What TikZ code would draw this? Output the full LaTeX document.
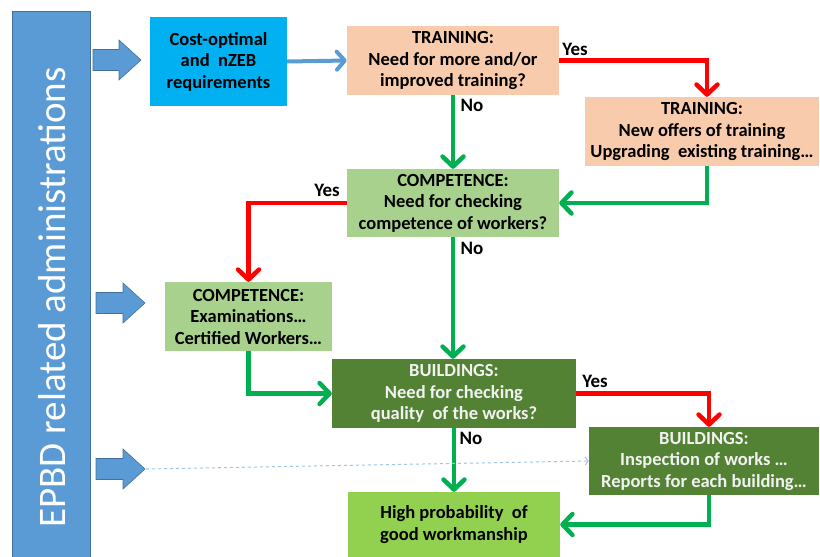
\documentclass[tikz,border=0pt]{standalone}
\usepackage{fontspec}
\setmainfont{Carlito}
\usetikzlibrary{arrows.meta,calc}
\definecolor{cBlue}{HTML}{5B9BD5}
\definecolor{cBlueDark}{HTML}{41719C}
\definecolor{cDash}{HTML}{9DC3E6}
\definecolor{cCyan}{HTML}{00B0F0}
\definecolor{cPeach}{HTML}{F8CBAD}
\definecolor{cLightGreen}{HTML}{A9D18E}
\definecolor{cDarkGreen}{HTML}{548235}
\definecolor{cLime}{HTML}{92D050}
\definecolor{cGreen}{HTML}{00B050}
\definecolor{cRed}{HTML}{FF0000}
\definecolor{cWhiteText}{HTML}{F2F2F2}
\begin{document}
\begin{tikzpicture}[x=1pt,y=-1pt,
  box/.style={rectangle, inner sep=0pt, align=center,
    font=\fontsize{18.5}{21.5}\selectfont\bfseries, text=black},
  lbl/.style={font=\fontsize{19}{21.5}\selectfont\bfseries, inner sep=0pt, anchor=base, text=black},
  gline/.style={draw=cGreen, line width=4.5pt, -{Straight Barb[length=10pt,width=21pt,round]}},
  rline/.style={draw=cRed, line width=4.5pt, -{Straight Barb[length=10pt,width=21pt,round]}},
  bline/.style={draw=cBlue, line width=4pt, -{Straight Barb[length=8pt,width=18pt,round]}},
  dline/.style={draw=cDash, line width=1pt, dashed, -{Straight Barb[length=3pt,width=8pt]}},
  blockarrow/.style={fill=cBlue, draw=cBlueDark, line width=0.6pt}
]
\useasboundingbox (0,0) rectangle (820,557);

% left bar
\path[fill=cBlue, draw=cBlueDark, line width=0.8pt] (12,11) rectangle (90,557);
\node[rotate=90, anchor=base, inner sep=0pt, text=white,
  font=\fontsize{39}{40}\selectfont] (bartext) at (65,297.5) {EPBD related administrations};

% block arrows
\path[blockarrow] (93,49.5) -- (119,49.5) -- (119,40) -- (141,60) -- (119,80) -- (119,70.5) -- (93,70.5) -- cycle;
\path[blockarrow] (96,292.5) -- (123,292.5) -- (123,283) -- (145,303) -- (123,323) -- (123,313.5) -- (96,313.5) -- cycle;
\path[blockarrow] (96,458.5) -- (123,458.5) -- (123,449) -- (145,469) -- (123,489) -- (123,479.5) -- (96,479.5) -- cycle;
\coordinate (a3tip) at (146,469);

% boxes
\node[box, fill=cCyan, minimum width=137pt, minimum height=89pt] (cost) at (218.5,61.5)
  {Cost-optimal\\and\ \ nZEB\\requirements};
\node[box, fill=cPeach, minimum width=212pt, minimum height=69pt] (train1) at (453,60.5)
  {TRAINING:\\Need for more and/or\\improved training?};
\node[box, fill=cPeach, minimum width=234pt, minimum height=69pt] (train2) at (702,131.5)
  {TRAINING:\\New offers of training\\Upgrading\ \ existing training…};
\node[box, fill=cLightGreen, minimum width=212pt, minimum height=68pt] (comp1) at (453,203)
  {COMPETENCE:\\Need for checking\\competence of workers?};
\node[box, fill=cLightGreen, minimum width=167pt, minimum height=69pt] (comp2) at (248.5,316.5)
  {COMPETENCE:\\Examinations…\\Certified\ Workers…};
\node[box, fill=cDarkGreen, text=cWhiteText, minimum width=244pt, minimum height=69pt] (build1) at (454,393.5)
  {BUILDINGS:\\Need for checking\\quality\ \ of the works?};
\node[box, fill=cDarkGreen, text=cWhiteText, minimum width=230pt, minimum height=68pt] (build2) at (704,461)
  {BUILDINGS:\\Inspection\ of works …\\Reports\ for each\ building…};
\node[box, fill=cLime, minimum width=212pt, minimum height=65pt] (high) at (454,524.5)
  {High probability\ \ of\\good workmanship};

% connectors
\draw[bline] (cost.east) -- (train1.west);
\draw[rline] (train1.east) -| ([xshift=5pt]train2.north);
\draw[gline] (train1.south) -- (comp1.north);
\draw[gline] ([xshift=5pt]train2.south) |- (comp1.east);
\draw[rline] (comp1.west) -| (comp2.north);
\draw[gline] (comp1.south) -- (comp1.south |- build1.north);
\draw[gline] (comp2.south) |- (build1.west);
\draw[rline] (build1.east) -| ([xshift=5pt]build2.north);
\draw[gline] (build1.south) -- (high.north);
\draw[gline] ([xshift=5pt]build2.south) |- (high.east);
\draw[dline] (a3tip) -- (build2.west);

% labels
\node[lbl] (y1) at (575,55) {Yes};
\node[lbl] (n1) at (472,111) {No};
\node[lbl] (y2) at (327,196) {Yes};
\node[lbl] (n2) at (472,254) {No};
\node[lbl] (y3) at (595,387) {Yes};
\node[lbl] (n3) at (471,444) {No};
\end{tikzpicture}
\end{document}
